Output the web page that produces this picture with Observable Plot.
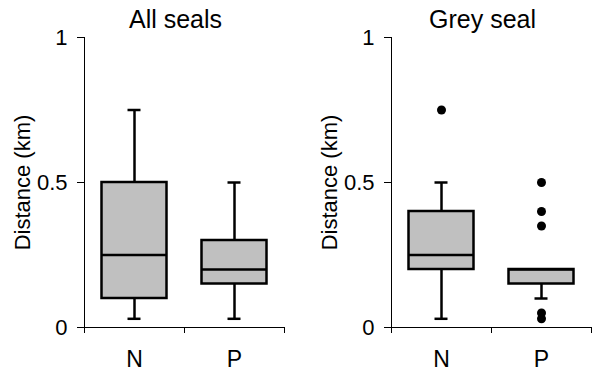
<!DOCTYPE html>
<html>
<head>
<meta charset="utf-8">
<script src="https://cdn.jsdelivr.net/npm/d3@7"></script>
<script src="https://cdn.jsdelivr.net/npm/@observablehq/plot@0.6"></script>
<style>
  html, body { margin: 0; padding: 0; background: #fff; }
  #wrap { position: relative; width: 592px; height: 373px; overflow: hidden; }
  #wrap svg { position: absolute; top: 0; overflow: visible; }
</style>
</head>
<body>
<div id="wrap"></div>
<script>
// ---- data ----
const titles = ["All seals", "Grey seal"];
const groups = ["N", "P"];
const yTicks = [0, 0.5, 1];
const yLabel = "Distance (km)";

// All seals: lower whisker, Q1, median, Q3, upper whisker
const allLow = [0.03, 0.03];
const allQ1 = [0.10, 0.15];
const allMedian = [0.25, 0.20];
const allQ3 = [0.50, 0.30];
const allHigh = [0.75, 0.50];

// Grey seal
const greyLow = [0.03, 0.10];
const greyQ1 = [0.20, 0.15];
const greyMedian = [0.25, 0.20];
const greyQ3 = [0.40, 0.20];
const greyHigh = [0.50, 0.20];
const greyOutlierGroups = ["N", "P", "P", "P", "P", "P"];
const greyOutlierValues = [0.75, 0.50, 0.40, 0.35, 0.05, 0.03];

// ---- build ----
const FONT = "'Liberation Sans', Arial, Helvetica, sans-serif";
const W = 296, H = 373, MT = 37, MB = 46;

function panel(title, low, q1, med, q3, high, outG, outV, ml, mr) {
  const rows = groups.map((g, i) => ({group: g, low: low[i], q1: q1[i], median: med[i], q3: q3[i], high: high[i]}));
  const outliers = outG.map((g, i) => ({group: g, value: outV[i]}));
  const half = (W - ml - mr) / groups.length / 2;
  return Plot.plot({
    width: W, height: H,
    marginLeft: ml, marginRight: mr, marginTop: MT, marginBottom: MB,
    style: {fontFamily: FONT, fontSize: "22px", color: "black", background: "transparent", overflow: "visible"},
    x: {type: "band", domain: groups, padding: 0, label: null},
    y: {domain: [0, 1], label: null},
    marks: [
      Plot.ruleX(rows, {x: "group", y1: "low", y2: "q1", stroke: "black", strokeWidth: 2.5}),
      Plot.ruleX(rows, {x: "group", y1: "q3", y2: "high", stroke: "black", strokeWidth: 2.5}),
      Plot.tickY(rows, {x: "group", y: "low", stroke: "black", strokeWidth: 2.5, insetLeft: 43.5, insetRight: 43.5}),
      Plot.tickY(rows, {x: "group", y: "high", stroke: "black", strokeWidth: 2.5, insetLeft: 43.5, insetRight: 43.5}),
      Plot.barY(rows, {x: "group", y1: "q1", y2: "q3", fill: "#c0c0c0", stroke: "black", strokeWidth: 2.5, insetLeft: 17.5, insetRight: 17.5}),
      Plot.tickY(rows, {x: "group", y: "median", stroke: "black", strokeWidth: 2.5, insetLeft: 17.5, insetRight: 17.5}),
      Plot.dot(outliers, {x: "group", y: "value", r: 4.5, fill: "black", stroke: null}),
      Plot.frame({anchor: "left", stroke: "black"}),
      Plot.ruleY([0], {stroke: "black"}),
      Plot.axisY(yTicks, {tickSize: 7, tickPadding: 10, tickFormat: d => String(d), fontSize: 22, label: null, stroke: "black"}),
      Plot.axisX(groups, {tickSize: 6, dx: half, tickFormat: () => "", label: null, stroke: "black"}),
      Plot.axisX(groups.slice(0, 1), {tickSize: 6, dx: -half, tickFormat: () => "", label: null, stroke: "black"}),
      Plot.axisX(groups, {tickSize: 0, tickPadding: 23, fontSize: 23, label: null}),
      Plot.text([title], {frameAnchor: "top", dy: -10, dx: -9, lineAnchor: "bottom", fontSize: 25, fill: "black"}),
      Plot.text([yLabel], {frameAnchor: "left", rotate: -90, dx: -62, textAnchor: "middle", fontSize: 22, fill: "black"})
    ]
  });
}

const wrap = document.getElementById("wrap");
const left = panel(titles[0], allLow, allQ1, allMedian, allQ3, allHigh, [], [], 84, 12);
left.style.left = "0px";
wrap.appendChild(left);
const right = panel(titles[1], greyLow, greyQ1, greyMedian, greyQ3, greyHigh, greyOutlierGroups, greyOutlierValues, 95, 1);
right.style.left = "296px";
wrap.appendChild(right);
</script>
</body>
</html>
